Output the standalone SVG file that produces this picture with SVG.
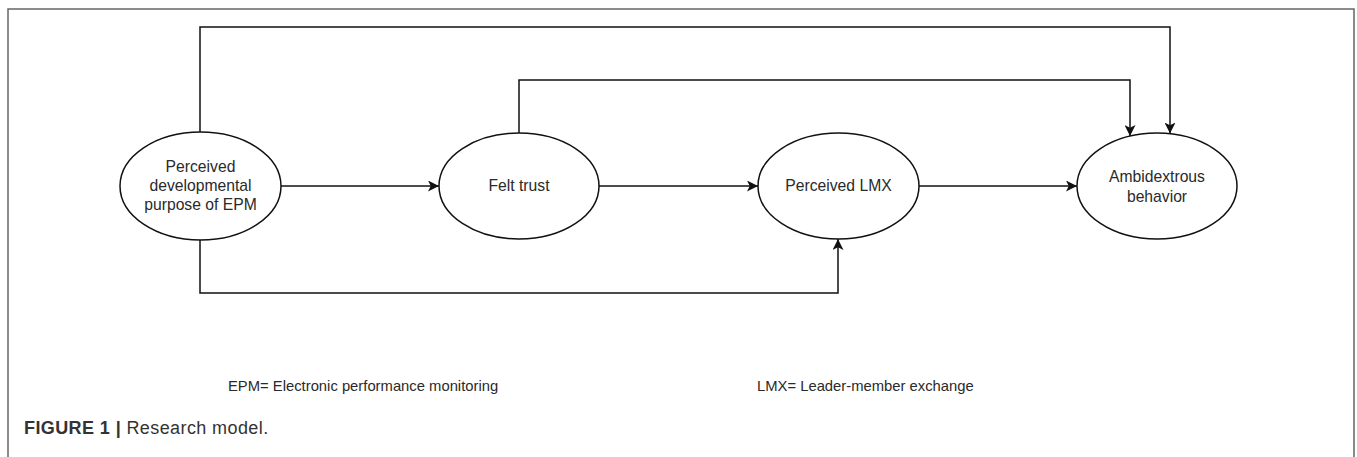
<svg xmlns="http://www.w3.org/2000/svg" width="1357" height="457" viewBox="0 0 1357 457">
<defs>
<style>
.node ellipse{fill:#fff;stroke:#111;stroke-width:1.5}
.node text,.legend{font-family:"Liberation Sans",Arial,sans-serif;font-size:15.7px;fill:#2a2a2a;text-anchor:middle}
.legend{text-anchor:start;font-size:14.8px}
#connectors path{fill:none;stroke:#111;stroke-width:1.5}
.cap{font-family:"Liberation Sans",Arial,sans-serif;font-size:18px;letter-spacing:0.4px;fill:#333}
</style>
<marker id="arr" viewBox="0 0 10 10" refX="10" refY="5" markerWidth="11" markerHeight="11" markerUnits="userSpaceOnUse" orient="auto">
<path d="M0,0 L10,5 L0,10 L2.5,5 Z" fill="#111"/>
</marker>
</defs>
<rect width="1357" height="457" fill="#fff"/>
<path d="M8,457 L8,9 L1354,9 L1354,457" fill="none" stroke="#666" stroke-width="1.5"/>
<g id="connectors">
<path d="M200,132 L200,27 L1170,27 L1170,133.5" marker-end="url(#arr)"/>
<path d="M519,133 L519,80 L1130,80 L1130,136" marker-end="url(#arr)"/>
<path d="M200,240 L200,293 L838,293 L838,239" marker-end="url(#arr)"/>
<path d="M281,186 L439,186" marker-end="url(#arr)"/>
<path d="M599,186 L758,186" marker-end="url(#arr)"/>
<path d="M919,186 L1077,186" marker-end="url(#arr)"/>
</g>
<g id="node-epm" class="node">
<ellipse cx="200.5" cy="186" rx="80.5" ry="54"/>
<text x="200.5" y="172">Perceived</text>
<text x="200.5" y="191">developmental</text>
<text x="200.5" y="210">purpose of EPM</text>
</g>
<g id="node-trust" class="node">
<ellipse cx="519" cy="186" rx="80" ry="53"/>
<text x="519" y="191">Felt trust</text>
</g>
<g id="node-lmx" class="node">
<ellipse cx="838.5" cy="186" rx="80.5" ry="53"/>
<text x="838.5" y="191">Perceived LMX</text>
</g>
<g id="node-amb" class="node">
<ellipse cx="1157" cy="186" rx="80" ry="53"/>
<text x="1157" y="182">Ambidextrous</text>
<text x="1157" y="202">behavior</text>
</g>
<text class="legend" x="228" y="391">EPM= Electronic performance monitoring</text>
<text class="legend" x="757" y="391">LMX= Leader-member exchange</text>
<text class="cap" x="24" y="434"><tspan font-weight="bold">FIGURE 1</tspan> <tspan font-weight="bold">|</tspan> Research model.</text>
</svg>
